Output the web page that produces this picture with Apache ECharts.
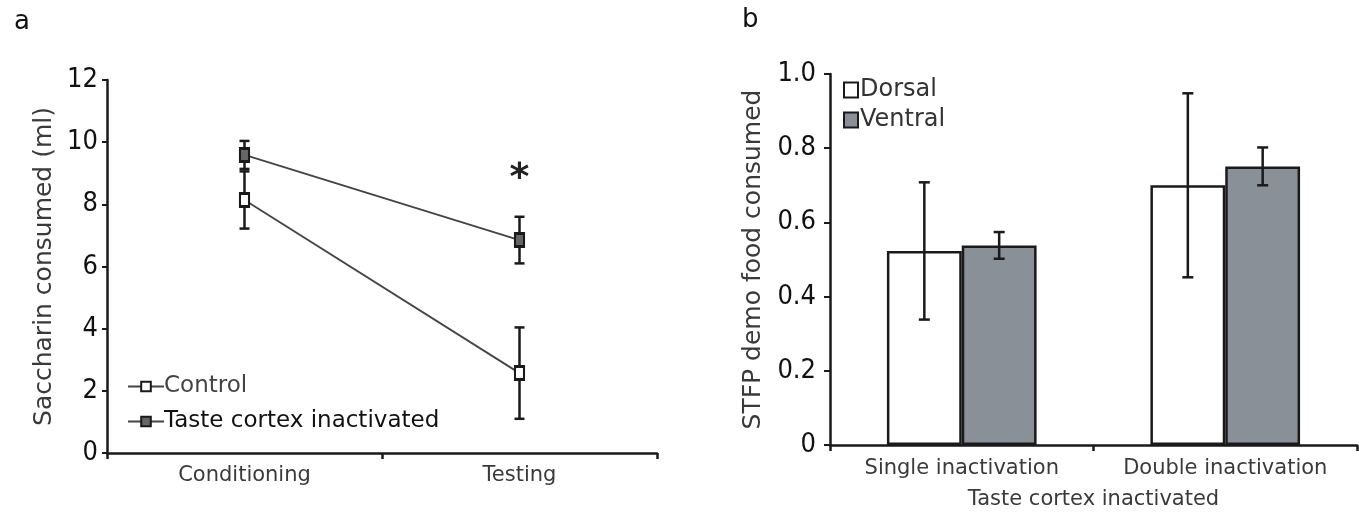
<!DOCTYPE html>
<html>
<head>
<meta charset="utf-8">
<script src="https://cdn.jsdelivr.net/npm/echarts@6/dist/echarts.min.js"></script>
<style>
html,body{margin:0;padding:0;background:#fff;}
#chart{width:1359px;height:515px;}
</style>
</head>
<body>
<div id="chart"></div>
<script>
// ---- Panel a data ----
const catsA = ['Conditioning', 'Testing'];
const controlMean = [8.14, 2.57];
const controlErr = [0.92, 1.47];
const tasteMean = [9.59, 6.85];
const tasteErr = [0.45, 0.75];
const sigMarks = [['Testing', 8.8, '*']];

// ---- Panel b data ----
const catsB = ['Single inactivation', 'Double inactivation'];
const dorsalMean = [0.523, 0.700];
const dorsalErr = [0.185, 0.248];
const ventralMean = [0.538, 0.751];
const ventralErr = [0.036, 0.051];

const FONT = 'DejaVu Sans';
const NUM_FONT = '"DejaVu Sans Condensed", "DejaVu Sans"';
const AXIS_COLOR = '#1a1a1a';
const BAR_FRAC = 0.284;

function errData(mean, err) {
  return mean.map((m, i) => [i, m - err[i], m + err[i]]);
}

function errRender(capW, sign) {
  return function (params, api) {
    const idx = api.value(0);
    const lo = api.coord([idx, api.value(1)]);
    const hi = api.coord([idx, api.value(2)]);
    let x = lo[0];
    if (sign !== 0) {
      const band = api.size([1, 0])[0];
      x = x + sign * band * BAR_FRAC / 2;
    }
    const st = { stroke: '#1a1a1a', lineWidth: 2.5 };
    return {
      type: 'group',
      children: [
        { type: 'line', shape: { x1: x, y1: lo[1], x2: x, y2: hi[1] }, style: st },
        { type: 'line', shape: { x1: x - capW / 2, y1: lo[1], x2: x + capW / 2, y2: lo[1] }, style: st },
        { type: 'line', shape: { x1: x - capW / 2, y1: hi[1], x2: x + capW / 2, y2: hi[1] }, style: st }
      ]
    };
  };
}

function sigRender(params, api) {
  const p = api.coord([api.value(0), api.value(1)]);
  return {
    type: 'text',
    x: p[0], y: p[1],
    style: {
      text: sigMarks[params.dataIndex][2],
      fontFamily: FONT, fontSize: 38, fontWeight: 'bold', fill: '#222',
      align: 'center', verticalAlign: 'middle'
    }
  };
}

const chart = echarts.init(document.getElementById('chart'), null, { renderer: 'canvas' });

const option = {
  animation: false,
  backgroundColor: '#fff',
  textStyle: { fontFamily: FONT },
  title: [
    { text: 'a', left: 9, top: 4, textStyle: { fontFamily: FONT, fontSize: 26, fontWeight: 'normal', color: '#111' } },
    { text: 'b', left: 737, top: 2, textStyle: { fontFamily: FONT, fontSize: 26, fontWeight: 'normal', color: '#111' } }
  ],
  legend: [
    {
      left: 122, top: 370, orient: 'vertical',
      itemWidth: 36, itemHeight: 12, itemGap: 12,
      textStyle: { fontFamily: FONT, fontSize: 23, color: '#111', padding: [0, 0, 0, -5] },
      data: [
        { name: 'Control', textStyle: { color: '#444' } },
        { name: 'Taste cortex inactivated' }
      ]
    },
    {
      left: 838, top: 73, orient: 'vertical', icon: 'rect',
      itemWidth: 14, itemHeight: 15, itemGap: 6,
      textStyle: { fontFamily: FONT, fontSize: 24, color: '#333', padding: [0, 0, 0, -3] },
      data: ['Dorsal', 'Ventral']
    }
  ],
  grid: [
    { left: 107, right: 702, top: 80, bottom: 62, containLabel: false },
    { left: 830, right: 2, top: 74, bottom: 67, containLabel: false }
  ],
  xAxis: [
    {
      type: 'category', gridIndex: 0, data: catsA, boundaryGap: true,
      axisLine: { lineStyle: { color: AXIS_COLOR, width: 2.5 } },
      axisTick: { show: true, length: 6, lineStyle: { color: AXIS_COLOR, width: 2.5 } },
      axisLabel: { fontFamily: FONT, fontSize: 21, color: '#3a3a3a', margin: 12, interval: 0 },
      splitLine: { show: false }
    },
    {
      type: 'category', gridIndex: 1, data: catsB, boundaryGap: true,
      name: 'Taste cortex inactivated', nameLocation: 'middle', nameGap: 44,
      nameTextStyle: { fontFamily: FONT, fontSize: 21, color: '#3a3a3a' },
      axisLine: { lineStyle: { color: AXIS_COLOR, width: 2.5 } },
      axisTick: { show: true, length: 6, lineStyle: { color: AXIS_COLOR, width: 2.5 } },
      axisLabel: { fontFamily: FONT, fontSize: 21, color: '#3a3a3a', margin: 13, interval: 0 },
      splitLine: { show: false }
    }
  ],
  yAxis: [
    {
      type: 'value', gridIndex: 0, min: 0, max: 12, interval: 2,
      name: 'Saccharin consumed (ml)', nameLocation: 'middle', nameGap: 50,
      nameTextStyle: { fontFamily: FONT, fontSize: 25, color: '#3a3a3a' },
      axisLine: { show: true, lineStyle: { color: AXIS_COLOR, width: 2.5 } },
      axisTick: { show: true, length: 5, lineStyle: { color: AXIS_COLOR, width: 2 } },
      axisLabel: { fontFamily: NUM_FONT, fontSize: 27, color: '#111', margin: 9 },
      splitLine: { show: false }
    },
    {
      type: 'value', gridIndex: 1, min: 0, max: 1, interval: 0.2,
      name: 'STFP demo food consumed', nameLocation: 'middle', nameGap: 64,
      nameTextStyle: { fontFamily: FONT, fontSize: 25, color: '#3a3a3a' },
      axisLine: { show: true, lineStyle: { color: AXIS_COLOR, width: 2.5 } },
      axisTick: { show: true, length: 6, lineStyle: { color: AXIS_COLOR, width: 2 } },
      axisLabel: {
        fontFamily: NUM_FONT, fontSize: 27, color: '#111', margin: 14,
        formatter: v => (v === 0 ? '0' : v.toFixed(1))
      },
      splitLine: { show: false }
    }
  ],
  series: [
    {
      type: 'custom', xAxisIndex: 0, yAxisIndex: 0, z: 1,
      renderItem: errRender(10, 0), data: errData(controlMean, controlErr), silent: true
    },
    {
      type: 'custom', xAxisIndex: 0, yAxisIndex: 0, z: 1,
      renderItem: errRender(10, 0), data: errData(tasteMean, tasteErr), silent: true
    },
    {
      name: 'Control', type: 'line', xAxisIndex: 0, yAxisIndex: 0, z: 3,
      data: controlMean, symbol: 'rect', symbolSize: [9, 13], showAllSymbol: true,
      lineStyle: { color: '#444', width: 1.8 },
      itemStyle: { color: '#fff', borderColor: '#1a1a1a', borderWidth: 2.5 }
    },
    {
      name: 'Taste cortex inactivated', type: 'line', xAxisIndex: 0, yAxisIndex: 0, z: 3,
      data: tasteMean, symbol: 'rect', symbolSize: [9, 13], showAllSymbol: true,
      lineStyle: { color: '#444', width: 1.8 },
      itemStyle: { color: '#666', borderColor: '#1a1a1a', borderWidth: 2.5 }
    },
    {
      type: 'custom', xAxisIndex: 0, yAxisIndex: 0, z: 4, silent: true,
      renderItem: sigRender,
      data: sigMarks.map(s => [catsA.indexOf(s[0]), s[1]])
    },
    {
      name: 'Dorsal', type: 'bar', xAxisIndex: 1, yAxisIndex: 1, z: 2,
      data: dorsalMean, barWidth: (BAR_FRAC * 100) + '%', barGap: '0%',
      itemStyle: { color: '#fff', borderColor: '#1a1a1a', borderWidth: 2.5 }
    },
    {
      name: 'Ventral', type: 'bar', xAxisIndex: 1, yAxisIndex: 1, z: 2,
      data: ventralMean, barWidth: (BAR_FRAC * 100) + '%', barGap: '0%',
      itemStyle: { color: '#899098', borderColor: '#1a1a1a', borderWidth: 2.5 }
    },
    {
      type: 'custom', xAxisIndex: 1, yAxisIndex: 1, z: 5,
      renderItem: errRender(11, -1), data: errData(dorsalMean, dorsalErr), silent: true
    },
    {
      type: 'custom', xAxisIndex: 1, yAxisIndex: 1, z: 5,
      renderItem: errRender(11, 1), data: errData(ventralMean, ventralErr), silent: true
    }
  ]
};

chart.setOption(option);
</script>
</body>
</html>
